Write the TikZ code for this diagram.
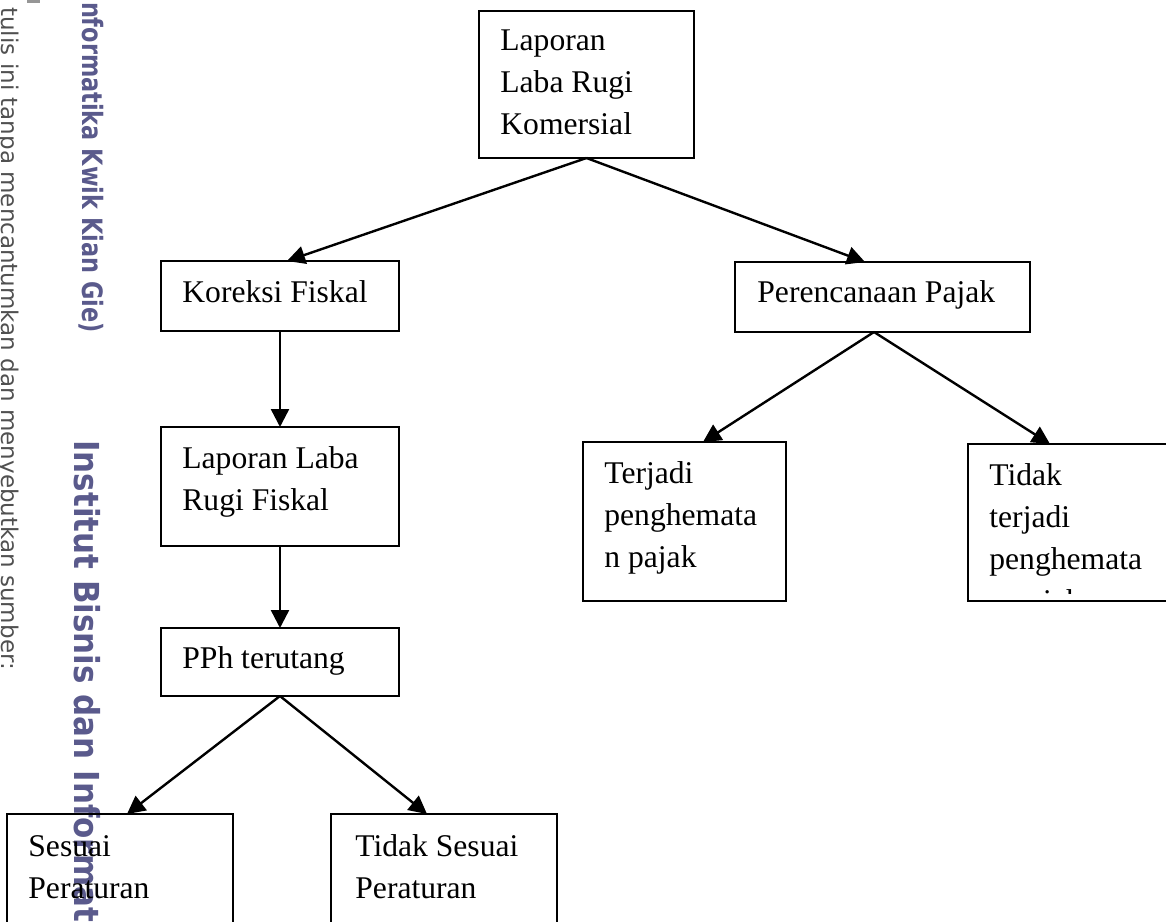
\documentclass[tikz,border=0pt]{standalone}
\usepackage{fontspec}
\setmainfont{Liberation Serif}
\newfontfamily\wmfont{DejaVu Sans}
\newfontfamily\wmfontA[FakeStretch=0.8]{DejaVu Sans}
\newfontfamily\wmfontB[FakeStretch=0.9]{DejaVu Sans}
\usetikzlibrary{arrows.meta}
\definecolor{wmpurple}{RGB}{90,90,140}
\definecolor{wmgray}{RGB}{80,80,80}
\tikzset{
  box/.style={draw, line width=1pt, rectangle, inner sep=0pt, outer sep=0pt, anchor=north west},
  txt/.style={anchor=base west, inner sep=0pt, font=\fontsize{15.8pt}{21pt}\selectfont},
  conn/.style={line width=1.2pt, -{Triangle[length=9pt,width=9pt]}},
  wm/.style={rotate=-90, inner sep=0pt, text=wmpurple},
}
\begin{document}
\begin{tikzpicture}[x=0.5pt,y=-0.5pt]
\useasboundingbox (0,0) rectangle (1166,921);
\clip (0,0) rectangle (1166,921);
% watermark
\fill[wmgray!60] (27,0) rectangle (40,3);
\node[rotate=-90, anchor=base west, inner sep=0pt, text=wmgray, font=\wmfont\fontsize{11.5pt}{14pt}\selectfont] (wma) at (2,7) {tulis ini tanpa mencantumkan dan menyebutkan sumber:};
\node[wm, anchor=base east, font=\wmfontA\bfseries\fontsize{14pt}{16pt}\selectfont] (wmb) at (82,333) {Informatika Kwik Kian Gie)};
\node[wm, anchor=base west, font=\wmfontB\bfseries\fontsize{17.2pt}{20pt}\selectfont] (wmc) at (74,440) {Institut Bisnis dan Informatika};
% boxes
\node[box, minimum width=107.5pt, minimum height=73.5pt] (top) at (479,11) {};
\node[box, minimum width=119pt, minimum height=35pt] (kor) at (161,261) {};
\node[box, minimum width=147.5pt, minimum height=35pt] (per) at (735,262) {};
\node[box, minimum width=119pt, minimum height=59.5pt] (lr) at (161,427) {};
\node[box, minimum width=119pt, minimum height=34pt] (pph) at (161,628) {};
\node[box, minimum width=101.5pt, minimum height=79.5pt] (ter) at (583,442) {};
\node[box, minimum width=102pt, minimum height=78.5pt] (tdk) at (968,444) {};
\node[box, minimum width=113pt, minimum height=75pt] (ses) at (7,814) {};
\node[box, minimum width=113pt, minimum height=75pt] (tsp) at (331,814) {};
% texts
\node[txt] (ttop) at (500,50) {\vtop{\hbox{Laporan}\hbox{Laba Rugi}\hbox{Komersial}}};
\node[txt] (tkor) at (182,302) {Koreksi Fiskal};
\node[txt] (tper) at (757,302) {Perencanaan Pajak};
\node[txt] (tlr) at (182,468) {\vtop{\hbox{Laporan Laba}\hbox{Rugi Fiskal}}};
\node[txt] (tpph) at (182,668) {PPh terutang};
\node[txt] (tter) at (604,483) {\vtop{\hbox{Terjadi}\hbox{penghemata}\hbox{n pajak}}};
\begin{scope}
\clip (968,444) rectangle (1175,593);
\node[txt] (ttdk) at (989,485) {\vtop{\hbox{Tidak}\hbox{terjadi}\hbox{penghemata}\hbox{n pajak}}};
\end{scope}
\node[txt] (tses) at (28,856) {\vtop{\hbox{Sesuai}\hbox{Peraturan}}};
\node[txt] (ttsp) at (355,856) {\vtop{\hbox{Tidak Sesuai}\hbox{Peraturan}}};
% connectors
\draw[conn] (top.south) -- ([xshift=3.5pt]kor.north);
\draw[conn] (top.south) -- ([xshift=-8.75pt]per.north);
\draw[conn] (kor.south) -- (lr.north);
\draw[conn] (lr.south) -- (pph.north);
\draw[conn] (pph.south) -- ([xshift=3.5pt]ses.north);
\draw[conn] (pph.south) -- ([xshift=-8.5pt]tsp.north);
\draw[conn] ([xshift=-4.25pt]per.south) -- ([xshift=9.25pt]ter.north);
\draw[conn] ([xshift=-4.25pt]per.south) -- ([xshift=-10pt]tdk.north);
\end{tikzpicture}
\end{document}
